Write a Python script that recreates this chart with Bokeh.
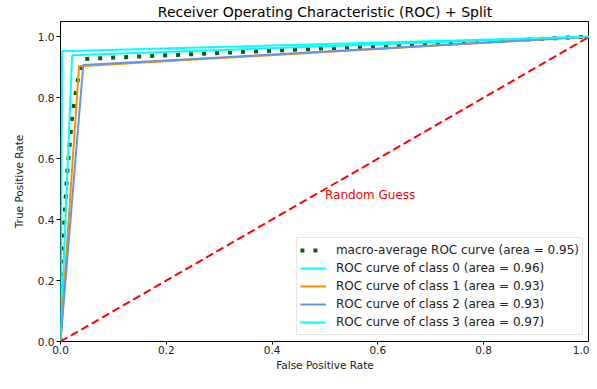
from bokeh.plotting import figure
from bokeh.models import Range1d, FixedTicker, PrintfTickFormatter, Legend, LegendItem, Label
from bokeh.embed import file_html
from bokeh.resources import INLINE

# ---- data ----
macro_fpr = [0.0, 0.003, 0.0125, 0.022, 0.033, 0.043, 1.0]
macro_tpr = [0.0, 0.27, 0.55, 0.74, 0.86, 0.927, 1.0]
macro_auc = 0.95

class_fpr = [
    [0.0, 0.022, 1.0],
    [0.0, 0.035, 1.0],
    [0.0, 0.043, 1.0],
    [0.0, 0.003, 1.0],
]
class_tpr = [
    [0.0, 0.939, 1.0],
    [0.0, 0.903, 1.0],
    [0.0, 0.907, 1.0],
    [0.0, 0.952, 1.0],
]
class_auc = [0.96, 0.93, 0.93, 0.97]
class_colors = ["aqua", "darkorange", "cornflowerblue", "aqua"]

diag_x = [0.0, 1.0]
diag_y = [0.0, 1.0]
ticks = [0.0, 0.2, 0.4, 0.6, 0.8, 1.0]

FONT = "DejaVu Sans"

p = figure(width=589, height=373, output_backend="svg", toolbar_location=None,
           title="Receiver Operating Characteristic (ROC) + Split",
           x_range=Range1d(0.0, 1.0), y_range=Range1d(0.0, 1.05),
           min_border_left=60, min_border_right=0, min_border_top=2, min_border_bottom=20)

p.title.align = "center"
p.title.text_font = FONT
p.title.text_font_size = "14px"
p.title.text_font_style = "normal"
p.title.text_color = "black"
p.title.standoff = 3

p.grid.visible = False
p.outline_line_color = "black"
p.outline_line_width = 1
p.outline_line_alpha = 1.0
p.background_fill_color = "white"
p.border_fill_color = "white"

for ax in (p.xaxis[0], p.yaxis[0]):
    ax.ticker = FixedTicker(ticks=ticks)
    ax.formatter = PrintfTickFormatter(format="%.1f")
    ax.axis_line_color = None
    ax.major_tick_in = 0
    ax.major_tick_out = 4
    ax.major_tick_line_color = "black"
    ax.minor_tick_line_color = None
    ax.major_label_text_font = FONT
    ax.major_label_text_font_size = "10.5px"
    ax.major_label_text_color = "#222222"
    ax.axis_label_text_font = FONT
    ax.axis_label_text_font_size = "10.5px"
    ax.axis_label_text_font_style = "normal"
    ax.axis_label_text_color = "#222222"
    ax.major_label_standoff = 2

p.xaxis.axis_label = "False Positive Rate"
p.yaxis.axis_label = "True Positive Rate"
p.xaxis.major_tick_out = 3
p.xaxis.major_label_standoff = 1
p.xaxis.axis_label_standoff = 2
p.yaxis.axis_label_standoff = 10

items = []
r = p.line(macro_fpr, macro_tpr, line_color="darkgreen", line_width=4,
           line_dash="4 9", line_cap="butt")
items.append(LegendItem(label="macro-average ROC curve (area = %.2f)" % macro_auc, renderers=[r]))

for i in range(4):
    r = p.line(class_fpr[i], class_tpr[i], line_color=class_colors[i], line_width=2)
    items.append(LegendItem(label="ROC curve of class %d (area = %.2f)" % (i, class_auc[i]), renderers=[r]))

p.line(diag_x, diag_y, line_color="red", line_width=2, line_dash="8 4")

p.add_layout(Label(x=0.5, y=0.48, text="Random Guess", text_color="red",
                   text_font=FONT, text_font_size="12px", text_baseline="alphabetic"))

legend = Legend(items=items, location="bottom_right")
legend.label_text_font = FONT
legend.label_text_font_size = "12px"
legend.label_text_color = "#222222"
legend.glyph_width = 26
legend.glyph_height = 18
legend.label_height = 18
legend.label_standoff = 10
legend.spacing = 0
legend.padding = 3
legend.margin = 6
legend.border_line_color = "#cccccc"
legend.border_line_width = 1
legend.background_fill_alpha = 0.85
p.add_layout(legend)

open("out.html", "w").write(file_html(p, INLINE))
